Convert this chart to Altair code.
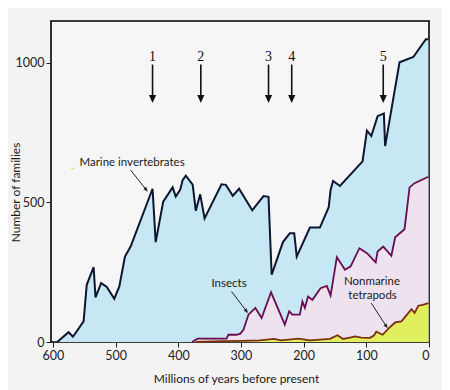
import math
import altair as alt
import pandas as pd

# ---- data ----
marine_t = [593, 575, 568, 551, 546, 535, 532, 523, 514, 502, 494, 485, 476, 441, 436, 424, 409, 404, 397, 393,
            388, 377, 372, 365, 358, 331, 324, 313, 303, 282, 264, 256, 251, 233, 222, 215, 211, 190, 174, 160,
            157, 153, 142, 106, 99, 92, 82, 72, 70, 47, 25, 5, 1]
marine_v = [0, 35, 19, 74, 205, 268, 160, 211, 197, 155, 199, 306, 342, 549, 358, 503, 554, 521, 545, 580,
            596, 564, 470, 529, 443, 565, 563, 524, 549, 472, 523, 520, 241, 358, 390, 390, 306, 410, 410, 483,
            545, 577, 559, 647, 757, 738, 809, 819, 702, 1002, 1021, 1085, 1085]

insect_t = [378, 369, 323, 320, 307, 301, 296, 288, 277, 267, 252, 230, 223, 218, 206, 202, 198, 193, 186, 173,
            163, 157, 147, 134, 125, 111, 99, 85, 82, 73, 60, 54, 39, 31, 23, 1]
insect_v = [0, 12, 12, 26, 26, 30, 44, 98, 122, 86, 178, 62, 110, 98, 98, 145, 122, 163, 151, 193,
            201, 166, 304, 259, 271, 336, 318, 285, 324, 342, 309, 375, 404, 554, 569, 592]

tetra_t = [372, 330, 300, 270, 247, 236, 208, 190, 158, 146, 137, 126, 118, 108, 94, 88, 84, 74, 64, 54,
           44, 28, 23, 17, 10, 1]
tetra_v = [0, 3, 4, 6, 11, 6, 12, 6, 11, 24, 11, 16, 20, 16, 15, 23, 37, 26, 50, 70,
           74, 118, 104, 130, 133, 139]

x_ticks = [600, 500, 400, 300, 200, 100, 0]
y_ticks = [0, 500, 1000]

event_labels = ["1", "2", "3", "4", "5"]
event_t = [441, 364, 256, 219, 73]

label_text = ["Marine invertebrates", "Insects", "Nonmarine", "tetrapods"]

# ---- layout constants ----
W, H = 378, 321
X_DOM = [603, 0]
Y_DOM = [0, 1150]
PX_T = W / (X_DOM[0] - X_DOM[1])
PX_V = H / (Y_DOM[1] - Y_DOM[0])

FONT = "Lato"

x_enc = alt.X("t:Q", scale=alt.Scale(domain=X_DOM, nice=False, zero=False),
              axis=alt.Axis(values=x_ticks, format="d", title="Millions of years before present",
                            titleX=185, titleY=36, titleBaseline="middle", titleAlign="center"))
y_enc = alt.Y("v:Q", scale=alt.Scale(domain=Y_DOM, nice=False),
              axis=alt.Axis(values=y_ticks, format="d", title="Number of families",
                            titleX=-36, titleY=171, titleAngle=270, titleAlign="center",
                            titleBaseline="middle"))


def df(ts, vs):
    return pd.DataFrame({"t": ts, "v": vs})


marine = df(marine_t, marine_v)
insect = df(insect_t, insect_v)
tetra = df(tetra_t, tetra_v)

layers = []
for d, fill in [(marine, "#c7e7f4"), (insect, "#efe2ef"), (tetra, "#e0ef5e")]:
    layers.append(alt.Chart(d).mark_area(color=fill, opacity=1).encode(x=x_enc, y=y_enc))
for d, col, sw in [(marine, "#0c1630", 2.0), (insect, "#6a0d4e", 1.8), (tetra, "#7c2f0e", 1.8)]:
    layers.append(alt.Chart(d).mark_line(color=col, strokeWidth=sw, strokeJoin="miter").encode(x=x_enc, y=y_enc))

# event arrows 1-5
ev_text = pd.DataFrame({"t": event_t, "v": [1021] * 5, "lab": event_labels})
layers.append(alt.Chart(ev_text).mark_text(font="Liberation Serif", fontSize=14, color="#111",
                                           baseline="middle").encode(x=x_enc, y=y_enc, text="lab:N"))
ev_shaft = pd.DataFrame({"t": event_t, "v": [994] * 5, "v2": [875] * 5})
layers.append(alt.Chart(ev_shaft).mark_rule(color="#111", strokeWidth=1.6).encode(
    x=x_enc, y=y_enc, y2="v2:Q"))
ev_head = pd.DataFrame({"t": event_t, "v": [871] * 5})
layers.append(alt.Chart(ev_head).mark_point(shape="M-0.9,-1L0.9,-1L0,1Z", size=64, filled=True,
                                            color="#111", opacity=1).encode(x=x_enc, y=y_enc))

# labels
lab_left = pd.DataFrame({"t": [557.6, 347], "v": [640, 207], "lab": label_text[:2]})
layers.append(alt.Chart(lab_left).mark_text(font=FONT, fontSize=11.5, color="#1a1a1a", align="left",
                                            baseline="middle").encode(x=x_enc, y=y_enc, text="lab:N"))
lab_c = pd.DataFrame({"t": [91, 90], "v": [214, 166], "lab": label_text[2:]})
layers.append(alt.Chart(lab_c).mark_text(font=FONT, fontSize=11.5, color="#1a1a1a", align="center",
                                         baseline="middle").encode(x=x_enc, y=y_enc, text="lab:N"))

# stray yellow mark near the marine label
layers.append(alt.Chart(pd.DataFrame({"t": [571], "v": [622], "t2": [566]})).mark_rule(
    color="#d6ea55", strokeWidth=1.5).encode(x=x_enc, x2="t2:Q", y=y_enc))

# pointer arrows
ptr_t0 = [476, 315, 92]
ptr_v0 = [616, 181, 139]
ptr_t1 = [451, 291, 68]
ptr_v1 = [545, 110, 56]
ptr = pd.DataFrame({"t": ptr_t0, "v": ptr_v0, "t2": ptr_t1, "v2": ptr_v1})
layers.append(alt.Chart(ptr).mark_rule(color="#222", strokeWidth=1).encode(
    x=x_enc, y=y_enc, x2="t2:Q", y2="v2:Q"))
angles = []
for a, b, c, d in zip(ptr_t0, ptr_v0, ptr_t1, ptr_v1):
    dx = (a - c) * PX_T
    dy = (b - d) * PX_V
    angles.append((-math.degrees(math.atan2(dx, dy))) % 360)
heads = pd.DataFrame({"t": ptr_t1, "v": ptr_v1, "ang": angles})
layers.append(alt.Chart(heads).mark_point(shape="M-0.8,-1L0.8,-1L0,1Z", size=22, filled=True,
                                          color="#222", opacity=1).encode(
    x=x_enc, y=y_enc, angle=alt.Angle("ang:Q", scale=None)))

chart = alt.layer(*layers).properties(
    width=W, height=H,
    autosize=alt.AutoSizeParams(type="none"),
    padding={"left": 43, "top": 13, "right": 13, "bottom": 48},
    background="#f3f3f3",
).configure_view(
    stroke="#000", strokeWidth=1.6, fill="#f6f6f6"
).configure_axis(
    domain=False, grid=False, tickColor="#222", tickSize=5, tickWidth=1,
    labelFont=FONT, labelFontSize=12.5, labelColor="#222", labelPadding=2,
    titleFont=FONT, titleFontSize=12, titleColor="#1a1a1a", titleFontWeight="normal",
)

chart.save("out.html", embed_options={"renderer": "svg", "actions": False})
